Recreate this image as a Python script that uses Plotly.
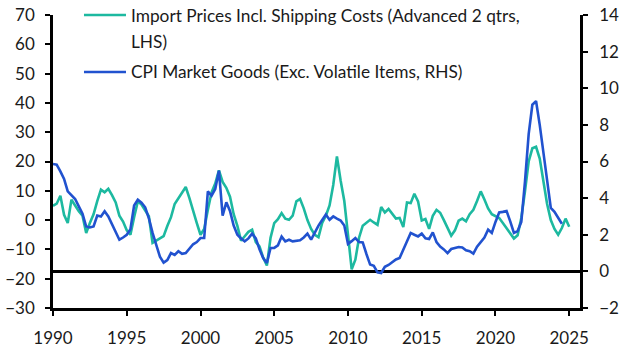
import plotly.graph_objects as go

# Quarterly dates (decimal years)
teal_years = [1990 + 0.25 * i for i in range(141)]  # 1990.00 .. 2025.00
import_prices = [
    4.9, 5.6, 8.3, 1.8, -1.0, 7.0, 5.0, 3.0, 1.5, -4.4, -1.0, 2.0,
    6.5, 10.4, 9.5, 10.7, 8.5, 6.0, 1.5, -0.5, -3.5, -5.0, 1.0, 6.4,
    5.3, 3.5, 1.3, -7.8, -7.0, -6.2, -5.5, -2.0, 1.0, 5.5, 7.5, 9.5,
    11.3, 7.5, 3.0, -1.0, -5.0, -3.0, 3.5, 9.5, 12.5, 17.0, 13.0, 11.0,
    8.0, 2.0, -2.0, -7.0, -5.5, -4.0, -3.3, -7.5, -9.0, -12.8, -15.5, -6.0,
    -1.0, 0.3, 2.4, 0.5, 0.1, 1.5, 6.4, 7.2, 4.0, 0.0, -3.0, -5.0,
    -5.8, -1.0, 1.5, 5.0, 12.0, 21.7, 13.5, 6.5, -5.0, -16.8, -13.5, -6.0,
    -1.9, -1.0, 0.1, -0.8, -1.6, 4.5, 2.6, 3.8, 2.0, 0.5, 0.7, -2.4,
    6.0, 5.8, 9.0, 6.4, -0.1, 0.4, -3.0, 1.5, 3.5, 2.5, 0.0, -2.5,
    -5.3, -3.5, -0.2, 0.5, -0.4, 2.0, 3.5, 6.5, 9.8, 7.0, 4.0, 2.0,
    1.2, 0.7, -1.0, -2.8, -4.8, -6.3, -5.2, 0.7, 9.8, 20.0, 24.5, 25.0,
    21.0, 13.5, 5.5, 0.0, -3.0, -5.0, -2.7, 0.5, -2.3,
]

blue_years = [1990 + 0.25 * i for i in range(139)]  # 1990.00 .. 2024.50
cpi_goods = [
    5.86, 5.83, 5.46, 5.05, 4.37, 4.15, 3.95, 3.55, 3.15, 2.45, 2.40, 2.45,
    3.05, 3.00, 3.28, 3.00, 2.55, 2.15, 1.73, 1.85, 2.00, 2.30, 3.60, 3.91,
    3.75, 3.50, 2.90, 2.10, 1.50, 0.80, 0.48, 0.62, 1.00, 0.90, 1.10, 0.96,
    1.00, 1.25, 1.48, 1.60, 1.82, 1.82, 4.37, 4.13, 4.50, 5.50, 3.04, 3.77,
    3.30, 2.50, 2.00, 1.80, 1.64, 1.80, 2.06, 1.80, 1.20, 0.73, 0.46, 1.28,
    1.28, 1.42, 1.90, 1.64, 1.73, 1.64, 1.69, 1.70, 1.85, 2.06, 1.73, 2.15,
    2.50, 2.80, 3.10, 2.82, 3.00, 2.88, 2.78, 2.50, 1.50, 1.65, 1.82, 1.60,
    1.58, 0.95, 0.37, 0.30, -0.05, -0.09, 0.25, 0.35, 0.50, 0.65, 0.73, 1.20,
    1.70, 2.10, 2.00, 1.91, 2.06, 1.80, 1.77, 2.13, 1.60, 1.35, 1.20, 1.00,
    1.22, 1.26, 1.33, 1.30, 1.15, 1.10, 0.97, 1.35, 1.60, 1.85, 2.28, 2.10,
    2.70, 3.22, 3.25, 3.30, 2.73, 2.10, 2.20, 2.70, 4.90, 7.50, 9.10, 9.30,
    8.00, 6.50, 5.10, 3.46, 3.25, 2.92, 2.60,
]

x_ticks = [1990, 1995, 2000, 2005, 2010, 2015, 2020, 2025]
left_ticks = [-30, -20, -10, 0, 10, 20, 30, 40, 50, 60, 70]
right_ticks = [-2, 0, 2, 4, 6, 8, 10, 12, 14]

TEAL = "#1DB9A0"
BLUE = "#2152CF"
FONT = "Lato"
TXT = "#1a1a1a"

fig = go.Figure()
fig.add_trace(go.Scatter(x=teal_years, y=import_prices, mode="lines",
                         line=dict(color=TEAL, width=2.6), yaxis="y",
                         showlegend=False))
fig.add_trace(go.Scatter(x=blue_years, y=cpi_goods, mode="lines",
                         line=dict(color=BLUE, width=2.6), yaxis="y2",
                         showlegend=False))

axis_common = dict(showgrid=False, showline=True, linecolor="black", linewidth=2.5,
                   ticks="outside", tickcolor="black", ticklen=5, tickwidth=2,
                   automargin=False,
                   tickfont=dict(family=FONT, size=17, color=TXT))

fig.update_layout(
    width=628, height=352,
    margin=dict(l=53, r=48, t=15, b=44, autoexpand=False),
    paper_bgcolor="white", plot_bgcolor="white",
    xaxis=dict(range=[1990, 2025.73], tickvals=x_ticks, ticktext=[str(t) for t in x_ticks],
               zeroline=False, ticklabelstandoff=8, **axis_common),
    yaxis=dict(range=[-30, 70], tickvals=left_ticks, zeroline=False,
               ticklabelstandoff=7, **axis_common),
    yaxis2=dict(range=[-2, 14], tickvals=right_ticks, overlaying="y", side="right",
                zeroline=True, zerolinecolor="black", zerolinewidth=2.5,
                ticklabelstandoff=8, **axis_common),
)

# Manual legend
legend_items = [
    ("Import Prices Incl. Shipping Costs (Advanced 2 qtrs,", TEAL, 1.0),
    ("LHS)", None, 0.908),
    ("CPI Market Goods (Exc. Volatile Items, RHS)", BLUE, 0.8055),
]
for text, color, yy in legend_items:
    if color:
        fig.add_shape(type="line", xref="paper", yref="paper", x0=0.0588, x1=0.1385,
                      y0=yy, y1=yy, line=dict(color=color, width=2.6))
    fig.add_annotation(text=text, xref="paper", yref="paper", x=0.1442, y=yy,
                       xanchor="left", yanchor="middle", showarrow=False,
                       font=dict(family=FONT, size=17.3, color=TXT))

fig.write_html("out.html")
